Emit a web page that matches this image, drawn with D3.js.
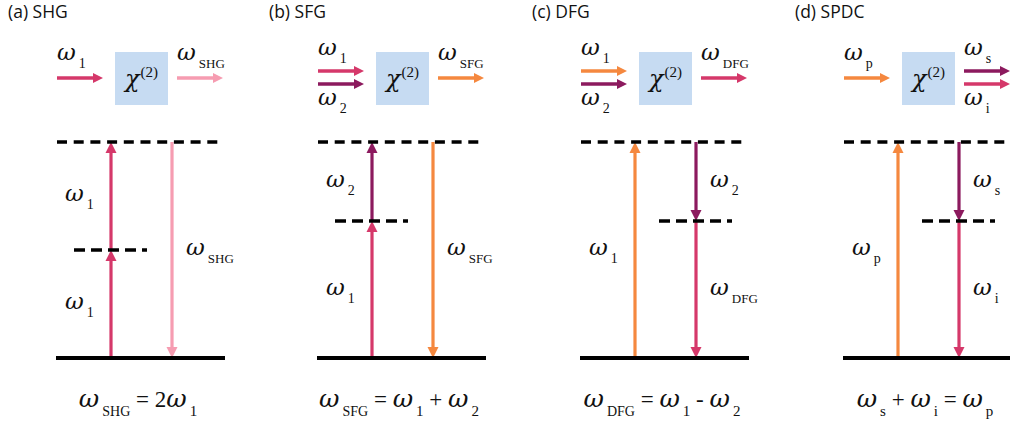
<!DOCTYPE html>
<html>
<head>
<meta charset="utf-8">
<script src="https://cdn.jsdelivr.net/npm/d3@7"></script>
<style>
  html, body { margin: 0; padding: 0; background: #ffffff; }
  svg { display: block; }
  text { white-space: pre; }
</style>
</head>
<body>
<svg id="fig" width="1010" height="425"></svg>
<script>
// ---- content -------------------------------------------------------------
const panelTitles = ["(a) SHG", "(b) SFG", "(c) DFG", "(d) SPDC"];

// photon energies, in units of the upper virtual level
const virtualLevel = [0.5, 0.634, 0.634, 0.634];

// level-diagram transitions: column 0 = left (absorbed), 1 = right (emitted)
const transitions = [
  { panel: 0, column: 0, from: 0,     to: 0.5,   beam: "mid",  label: ["ω", "1"] },
  { panel: 0, column: 0, from: 0.5,   to: 1,     beam: "mid",  label: ["ω", "1"] },
  { panel: 0, column: 1, from: 1,     to: 0,     beam: "harm", label: ["ω", "SHG"] },
  { panel: 1, column: 0, from: 0,     to: 0.634, beam: "mid",  label: ["ω", "1"] },
  { panel: 1, column: 0, from: 0.634, to: 1,     beam: "low",  label: ["ω", "2"] },
  { panel: 1, column: 1, from: 1,     to: 0,     beam: "high", label: ["ω", "SFG"] },
  { panel: 2, column: 0, from: 0,     to: 1,     beam: "high", label: ["ω", "1"] },
  { panel: 2, column: 1, from: 1,     to: 0.634, beam: "low",  label: ["ω", "2"] },
  { panel: 2, column: 1, from: 0.634, to: 0,     beam: "mid",  label: ["ω", "DFG"] },
  { panel: 3, column: 0, from: 0,     to: 1,     beam: "high", label: ["ω", "p"] },
  { panel: 3, column: 1, from: 1,     to: 0.634, beam: "low",  label: ["ω", "s"] },
  { panel: 3, column: 1, from: 0.634, to: 0,     beam: "mid",  label: ["ω", "i"] }
];

// beams entering and leaving the χ(2) crystal
const inputBeams = [
  [{ beam: "mid",  sub: "1" }],
  [{ beam: "mid",  sub: "1" }, { beam: "low", sub: "2" }],
  [{ beam: "high", sub: "1" }, { beam: "low", sub: "2" }],
  [{ beam: "high", sub: "p" }]
];
const outputBeams = [
  [{ beam: "harm", sub: "SHG" }],
  [{ beam: "high", sub: "SFG" }],
  [{ beam: "mid",  sub: "DFG" }],
  [{ beam: "low",  sub: "s" }, { beam: "mid", sub: "i" }]
];

// energy-conservation relations under each diagram
const equations = [
  [["ω", "SHG"], [" = 2"], ["ω", "1"]],
  [["ω", "SFG"], [" = "], ["ω", "1"], [" + "], ["ω", "2"]],
  [["ω", "DFG"], [" = "], ["ω", "1"], [" - "], ["ω", "2"]],
  [["ω", "s"], [" + "], ["ω", "i"], [" = "], ["ω", "p"]]
];

// ---- styling & layout -----------------------------------------------------
const beamColor = d3.scaleOrdinal()
  .domain(["high", "mid", "low", "harm"])
  .range(["#f5883f", "#d5386a", "#8c1a5e", "#f69cb1"]);

const panelX = [56, 317, 580, 843];           // left edge of each panel
const columnX = [55, 116];                    // arrow columns inside a panel
const y = d3.scaleLinear().domain([0, 1]).range([358, 142]);

const SANS = "'Open Sans', 'Noto Sans', sans-serif";
const SERIF = "'Liberation Serif', 'DejaVu Serif', serif";
const OMEGA = "'DejaVu Serif', serif";

const svg = d3.select("#fig");

// small helper for ω-with-subscript text runs
function richText(g, tokens, o) {
  const text = g.append("text")
    .attr("x", o.x).attr("y", o.y)
    .attr("text-anchor", o.anchor || "start")
    .attr("fill", "#111");
  let lift = 0;
  tokens.forEach(([main, sub]) => {
    const isOmega = main === "ω";
    text.append("tspan")
      .attr("dy", -lift)
      .attr("font-family", isOmega ? OMEGA : SERIF)
      .attr("font-style", isOmega ? "italic" : "normal")
      .attr("font-size", isOmega ? o.size : o.size * 0.92)
      .text(main);
    lift = 0;
    if (sub) {
      const single = sub.length === 1;
      text.append("tspan")
        .attr("dx", o.subGap)
        .attr("dy", o.drop)
        .attr("font-family", SERIF)
        .attr("font-size", single ? o.subSize : o.capSize)
        .text(sub);
      lift = o.drop;
    }
  });
  return text;
}

function hArrow(g, x0, x1, yy, color) {
  const head = 10, half = 5;
  g.append("line")
    .attr("x1", x0).attr("x2", x1 - head + 1)
    .attr("y1", yy).attr("y2", yy)
    .attr("stroke", color).attr("stroke-width", 3.4);
  g.append("path")
    .attr("d", `M${x1},${yy} L${x1 - head},${yy - half} L${x1 - head},${yy + half} Z`)
    .attr("fill", color);
}

function vArrow(g, xx, y0, y1, color) {
  const head = 11, half = 5.5;
  const dir = y1 > y0 ? 1 : -1;
  g.append("line")
    .attr("x1", xx).attr("x2", xx)
    .attr("y1", y0).attr("y2", y1 - dir * (head - 1))
    .attr("stroke", color).attr("stroke-width", 3.2);
  g.append("path")
    .attr("d", `M${xx},${y1} L${xx - half},${y1 - dir * head} L${xx + half},${y1 - dir * head} Z`)
    .attr("fill", color);
}

panelTitles.forEach((title, p) => {
  const ox = panelX[p];
  const g = svg.append("g");

  // panel title
  g.append("text")
    .attr("x", ox - 48).attr("y", 18)
    .attr("font-family", SANS).attr("font-size", 17.5)
    .attr("fill", "#111")
    .text(title);

  // ---- χ(2) crystal with incoming / outgoing beams ----
  const boxX = ox + 59;
  g.append("rect")
    .attr("x", boxX).attr("y", 52)
    .attr("width", 53).attr("height", 53)
    .attr("fill", "#c6dbf2");
  const chi = g.append("text")
    .attr("x", boxX + 10).attr("y", 87)
    .attr("fill", "#111");
  chi.append("tspan")
    .attr("font-family", OMEGA).attr("font-style", "italic")
    .attr("font-size", 24).text("χ");
  chi.append("tspan")
    .attr("dy", -10).attr("dx", 1)
    .attr("font-family", SERIF).attr("font-size", 15).text("(2)");

  const beamRow = (beams, x0, x1, labelX) => {
    const ys = beams.length === 1 ? [78] : [71, 84];
    beams.forEach((b, i) => {
      hArrow(g, x0, x1, ys[i], beamColor(b.beam));
      const below = beams.length === 2 && i === 1;
      richText(g, [["ω", b.sub]], {
        x: labelX, y: below ? 105 : (beams.length === 2 ? 55 : 60),
        size: 23, subSize: 14, capSize: 13, drop: 8, subGap: 3
      });
    });
  };
  beamRow(inputBeams[p], ox + 1, ox + 47, ox + 1);
  beamRow(outputBeams[p], ox + 121, ox + 167, ox + 121);

  // ---- energy-level diagram ----
  const rows = transitions.filter(t => t.panel === p);
  rows.forEach(t => {
    const xx = ox + columnX[t.column];
    vArrow(g, xx, y(t.from), y(t.to), beamColor(t.beam));
    const mid = (y(t.from) + y(t.to)) / 2 + 5;
    richText(g, [t.label], {
      x: t.column === 0 ? xx - 46 : xx + 14, y: mid,
      size: 23, subSize: 14, capSize: 13, drop: 8, subGap: 3
    });
  });

  // virtual levels and ground state
  const midCol = p === 0 || p === 1 ? 0 : 1;
  const mx = ox + columnX[midCol];
  g.append("line")
    .attr("x1", mx - 37).attr("x2", mx + 36)
    .attr("y1", y(virtualLevel[p])).attr("y2", y(virtualLevel[p]))
    .attr("stroke", "#000").attr("stroke-width", 3.4)
    .attr("stroke-dasharray", "11,6");
  g.append("line")
    .attr("x1", ox + 1).attr("x2", ox + 167)
    .attr("y1", y(1)).attr("y2", y(1))
    .attr("stroke", "#000").attr("stroke-width", 3.4)
    .attr("stroke-dasharray", "10,6.7");
  g.append("line")
    .attr("x1", ox).attr("x2", ox + 169)
    .attr("y1", y(0)).attr("y2", y(0))
    .attr("stroke", "#000").attr("stroke-width", 4);

  // energy conservation
  richText(g, equations[p], {
    x: ox + 82, y: 407, anchor: "middle",
    size: 25, subSize: 15, capSize: 14, drop: 9, subGap: 3
  });
});
</script>
</body>
</html>
